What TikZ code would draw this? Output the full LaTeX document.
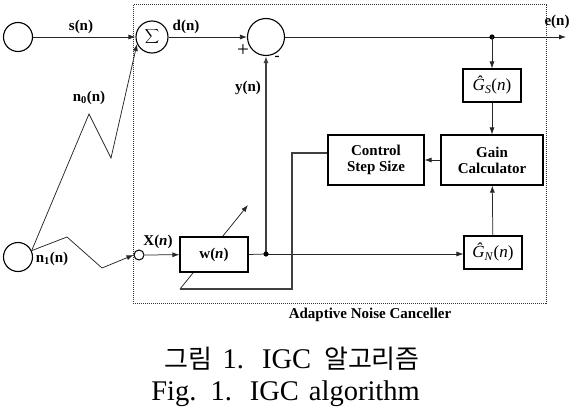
\documentclass[tikz,border=0pt]{standalone}
\usepackage{fontspec}
\setmainfont{Liberation Serif}
\newfontfamily\kr{Noto Sans CJK KR}
\usetikzlibrary{arrows.meta}
\begin{document}
\begin{tikzpicture}[x=1pt,y=-1pt,
  conn/.style={line width=0.75pt, draw=black!85},
  arr/.style={conn, -{Latex[length=7pt,width=5pt]}},
  thickln/.style={line width=1.3pt, draw=black!75},
  blk/.style={draw, line width=1.1pt, inner sep=0pt, fill=white, align=center,
    font=\fontsize{15}{16}\selectfont\bfseries},
  gbox/.style={draw, line width=1.1pt, inner sep=0pt, fill=white,
    minimum width=58pt, minimum height=33pt, font=\fontsize{17}{17}\selectfont},
  lbl/.style={inner sep=0pt, font=\fontsize{15}{16}\selectfont\bfseries},
  srcc/.style={circle, draw, line width=1.1pt, inner sep=0pt, minimum size=29pt},
  sumc/.style={circle, draw, line width=1.1pt, inner sep=0pt, fill=white},
  dotbox/.style={line width=1pt, dash pattern=on 1pt off 1pt, draw=black!80},
  capt/.style={inner sep=0pt, anchor=base east, font=\fontsize{28.5}{30}\selectfont}
]
\useasboundingbox (0,0) rectangle (572,409);
% frame
\draw[dotbox] (133,5) rectangle (546,303);
% adjustable-weight arrow (behind the filter box)
\coordinate (fb3) at (180,289);
\coordinate (adj) at (248,205);
\draw[arr] (fb3) -- (adj);
% nodes
\node[srcc] (s) at (18,37) {};
\node[srcc] (n1) at (18,257) {};
\node[sumc, minimum size=32pt] (sum) at (152,37) {\fontsize{18}{18}\selectfont$\displaystyle\sum$};
\node[sumc, minimum size=37pt] (sub) at (266,37) {};
\node[circle, draw, line width=1pt, inner sep=0pt, minimum size=10pt] (xc) at (139,255) {};
\node[blk, minimum width=68pt, minimum height=35pt] (w) at (214,254.5) {w(\textit{n})};
\node[gbox] (gs) at (492,85.5) {\textit{Ĝ}\textsubscript{\textit{S}}(\textit{n})};
\node[blk, minimum width=102pt, minimum height=50pt] (gain) at (492,160) {Gain\\Calculator};
\node[blk, minimum width=96pt, minimum height=50pt] (ctrl) at (376,160) {Control\\Step Size};
\node[gbox] (gn) at (493,252.5) {\textit{Ĝ}\textsubscript{\textit{N}}(\textit{n})};
% coordinates
\coordinate (jE) at (492,37);
\coordinate (eEnd) at (566,37);
\coordinate (jY) at (266,254);
\coordinate (c1) at (292,153);
\coordinate (c2) at (292,289);
% connectors
\draw[arr] (s) -- (sum);
\draw[arr] (sum) -- (sub);
\draw[arr] (sub) -- (eEnd);
\fill (jE) circle (2.6pt);
\draw[arr] (jE) -- (gs.north);
\draw[arr] (gs) -- (gain);
\draw[arr] (gn) -- (gain);
\draw[arr] (gain) -- (ctrl);
\draw[arr] (n1.25) -- (67,237) -- (102,268) -- (xc.west);
\draw[arr] (n1.25) -- (89,114) -- (111,158) -- (sum.205);
\draw[arr] (xc) -- (w);
\draw[conn] (w.east) -- (jY);
\draw[arr] (jY) -- (jY -| gn.west);
\draw[thickln, -{Latex[length=7pt,width=5pt]}] (jY) -- (sub.south);
\fill (jY) circle (2.6pt);
\draw[thickln] (ctrl.west |- c1) -- (c1) -- (c2) -- (fb3);
% labels
\node[lbl] (ls) at (81,27) {s(n)};
\node[lbl] (ld) at (186,27) {d(n)};
\node[lbl] (ln0) at (89,98) {n\textsubscript{0}(n)};
\node[lbl] (ln1) at (52,259) {n\textsubscript{1}(n)};
\node[lbl] (ly) at (248,88) {y(n)};
\node[lbl] (le) at (557,22) {e(n)};
\node[lbl] (lx) at (158,242) {X(\textit{n})};
\node[inner sep=0pt, font=\fontsize{21}{21}\selectfont] (lplus) at (243,51) {+};
\node[lbl] (lminus) at (277,58) {-};
\node[lbl] (lanc) at (370,315) {Adaptive Noise Canceller};
% caption
\node[capt] (cap1) at (420,368) {{\kr\fontsize{26}{28}\selectfont 그림}\hspace{10pt}1.\hspace{18pt}IGC\hspace{13pt}{\kr\fontsize{26}{28}\selectfont 알고리즘}};
\node[capt] (cap2) at (420,400) {Fig.\hspace{14pt}1.\hspace{18pt}IGC\hspace{10pt}algorithm};
\end{tikzpicture}
\end{document}
